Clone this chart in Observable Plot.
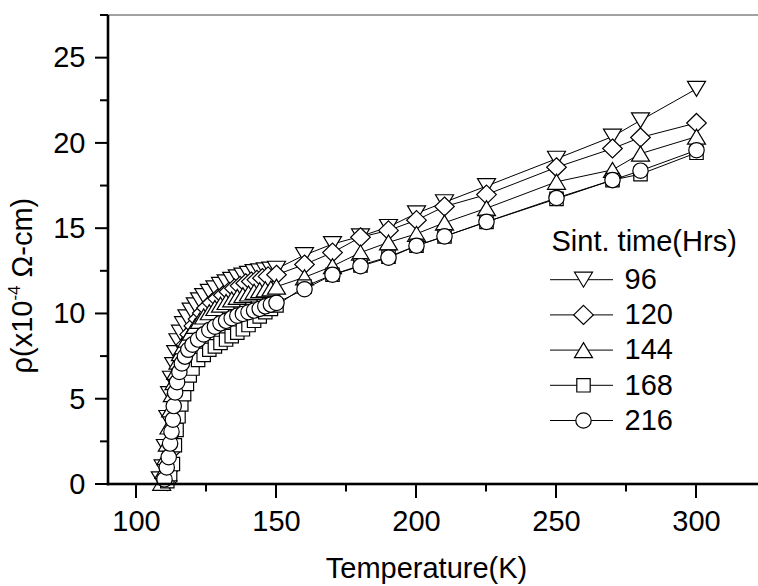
<!DOCTYPE html>
<html>
<head>
<meta charset="utf-8">
<script src="https://cdn.jsdelivr.net/npm/d3@7"></script>
<script src="https://cdn.jsdelivr.net/npm/@observablehq/plot@0.6"></script>
<style>
  html, body { margin: 0; padding: 0; background: #fff; overflow: hidden; }
</style>
</head>
<body>
<div id="chart"></div>
<script>
// ---- data ----
const seriesNames = ["96", "120", "144", "168", "216"];

const temp96 = [108.5,109.5,110.3,111.2,111.8,112.5,113.3,114,114.8,115.7,116.8,118,119.5,121,122.5,124,126,128,130,132,134,136,138,140,142,144,146,148,150,160,170,180,190,200,210,225,250,270,280,300];
const rho96  = [0.3,1.0,2.2,3.9,5.3,6.2,7.0,7.7,8.4,8.9,9.4,9.8,10.2,10.5,10.8,11.05,11.3,11.5,11.7,11.85,12.0,12.15,12.25,12.35,12.45,12.5,12.55,12.6,12.65,13.45,14.1,14.55,15.1,15.9,16.55,17.5,19.1,20.4,21.35,23.2];

const temp120 = [111,111.8,112.5,113.2,113.8,114.4,115,115.8,116.7,117.7,119,120.5,122,123.5,125,127,129,131,133,135,137,139,141,143,145,147,150,160,170,180,190,200,210,225,250,270,280,300];
const rho120  = [0.2,0.9,2.0,3.1,4.3,5.3,6.1,6.9,7.6,8.2,8.8,9.3,9.7,10.05,10.35,10.65,10.9,11.1,11.3,11.5,11.65,11.8,11.9,12.0,12.1,12.2,12.3,12.9,13.6,14.5,14.9,15.5,16.3,17.0,18.6,19.7,20.35,21.2];

const temp144 = [109,109.8,110.5,111,111.6,112.2,112.8,113.4,114,114.8,115.7,116.7,118,119.5,121,122.5,124,126,128,130,132,134,136,138,140,142,144,146,148,150,160,170,180,190,200,210,225,250,270,280,300];
const rho144  = [0.1,0.8,1.6,2.4,3.4,4.4,5.3,6.0,6.6,7.2,7.7,8.1,8.5,8.9,9.3,9.6,9.85,10.1,10.35,10.55,10.7,10.85,11.0,11.1,11.2,11.3,11.4,11.45,11.5,11.6,12.15,12.8,13.6,14.2,14.7,15.35,16.2,17.75,18.45,19.4,20.4];

const temp168 = [111,112,113,113.7,114.3,115,116,117,118,119,120,122,124,126,128,130,132,134,136,138,140,142,144,146,148,150,160,170,180,190,200,210,225,250,270,280,300];
const rho168  = [0.2,0.6,1.2,2.3,3.2,4.0,4.7,5.3,5.9,6.4,6.8,7.3,7.6,7.9,8.1,8.3,8.5,8.7,8.9,9.1,9.35,9.6,9.85,10.1,10.3,10.5,11.6,12.3,12.85,13.35,14.0,14.55,15.4,16.75,17.85,18.2,19.45];

const temp216 = [110,110.8,111.5,112,112.5,113,113.3,113.8,114.5,115.3,116.2,117.3,118.5,120,122,124,126,128,130,132,134,136,138,140,142,144,146,148,150,160,170,180,190,200,210,225,250,270,280,300];
const rho216  = [0.3,1.0,1.6,2.4,3.1,3.8,4.6,5.4,6.0,6.6,7.1,7.5,7.9,8.2,8.5,8.8,9.05,9.25,9.45,9.6,9.75,9.9,10.0,10.1,10.2,10.3,10.45,10.55,10.65,11.45,12.3,12.8,13.3,14.0,14.55,15.4,16.8,17.85,18.4,19.6];

// axis extent (where the axes are drawn) and the full view extent of the picture
const xAxisRange = [90, 322.14];
const yAxisRange = [0, 27.5];
const xView = [51.4286, 322.1429];
const yView = [-5.981, 28.380];
const xMajorTicks = [100, 150, 200, 250, 300];
const xMinorTicks = [125, 175, 225, 275];
const yMajorTicks = [0, 5, 10, 15, 20, 25];
const yMinorTicks = [2.5, 7.5, 12.5, 17.5, 22.5, 27.5];
const xTitle = "Temperature(K)";
const yTitle = "ρ(x10-4 Ω-cm)";
const legendTitle = "Sint. time(Hrs)";

// ---- symbols ----
const downTriangle = {draw(c) { c.moveTo(-9, -7.5); c.lineTo(9, -7.5); c.lineTo(0, 7.5); c.closePath(); }};
const upTriangle   = {draw(c) { c.moveTo(-9, 7.5); c.lineTo(9, 7.5); c.lineTo(0, -7.5); c.closePath(); }};
const diamond      = {draw(c) { c.moveTo(0, -9.5); c.lineTo(9.8, 0); c.lineTo(0, 9.5); c.lineTo(-9.8, 0); c.closePath(); }};
const square       = {draw(c) { c.moveTo(-6.7, -6.7); c.lineTo(6.7, -6.7); c.lineTo(6.7, 6.7); c.lineTo(-6.7, 6.7); c.closePath(); }};
const circle       = {draw(c) { c.moveTo(7.7, 0); c.arc(0, 0, 7.7, 0, 2 * Math.PI); c.closePath(); }};
const legendLine   = {draw(c) { c.moveTo(-31.5, 0); c.lineTo(31.5, 0); }};

const temps = [temp96, temp120, temp144, temp168, temp216];
const rhos = [rho96, rho120, rho144, rho168, rho216];
const symbols = [downTriangle, diamond, upTriangle, square, circle];

const font = "'Liberation Sans', Arial, Helvetica, sans-serif";
const FS = 29;

const marks = [];

// series: line then symbols, drawn in series order
seriesNames.forEach((name, i) => {
  const data = temps[i].map((t, j) => ({t, r: rhos[i][j]}));
  marks.push(Plot.line(data, {x: "t", y: "r", stroke: "black", strokeWidth: 1}));
  marks.push(Plot.dot(data, {x: "t", y: "r", symbol: symbols[i], r: 5, fill: "white", stroke: "black", strokeWidth: 1.2}));
});

// frame: top line (gray), left and bottom axis lines
const one = [0];
marks.push(Plot.rect(one, {x1: () => xAxisRange[0], x2: () => xAxisRange[1], y1: () => yAxisRange[1], y2: () => yAxisRange[1], insetTop: -0.6, insetBottom: -0.6, fill: "#666"}));
marks.push(Plot.rect(one, {x1: () => xAxisRange[0], x2: () => xAxisRange[0], y1: () => yAxisRange[0], y2: () => yAxisRange[1], insetLeft: -1.3, insetRight: -1.3, insetBottom: -1.3, fill: "black"}));
marks.push(Plot.rect(one, {x1: () => xAxisRange[0], x2: () => xAxisRange[1], y1: () => yAxisRange[0], y2: () => yAxisRange[0], insetTop: -1.3, insetBottom: -1.3, insetLeft: -1.3, fill: "black"}));

// ticks
marks.push(Plot.rect(xMajorTicks, {x1: d => d, x2: d => d, y1: () => yAxisRange[0], y2: () => yAxisRange[0], insetLeft: -1, insetRight: -1, insetBottom: -14, fill: "black"}));
marks.push(Plot.rect(xMinorTicks, {x1: d => d, x2: d => d, y1: () => yAxisRange[0], y2: () => yAxisRange[0], insetLeft: -1, insetRight: -1, insetBottom: -7.5, fill: "black"}));
marks.push(Plot.rect(yMajorTicks, {x1: () => xAxisRange[0], x2: () => xAxisRange[0], y1: d => d, y2: d => d, insetTop: -1, insetBottom: -1, insetLeft: -13, fill: "black"}));
marks.push(Plot.rect(yMinorTicks, {x1: () => xAxisRange[0], x2: () => xAxisRange[0], y1: d => d, y2: d => d, insetTop: -1, insetBottom: -1, insetLeft: -8, fill: "black"}));

// tick labels
marks.push(Plot.text(xMajorTicks, {x: d => d, y: () => yAxisRange[0], dy: 26, lineAnchor: "top", fontSize: FS, text: d => String(d)}));
marks.push(Plot.text(yMajorTicks, {x: () => xAxisRange[0], y: d => d, dx: -23, textAnchor: "end", lineAnchor: "middle", fontSize: FS, text: d => String(d)}));

// axis titles
marks.push(Plot.text([xTitle], {frameAnchor: "bottom", dx: 47, dy: -17.3, lineAnchor: "middle", fontSize: FS, text: d => d}));
marks.push(Plot.text([yTitle], {frameAnchor: "left", rotate: -90, textAnchor: "start", dx: 22.7, dy: 80, fontSize: FS, text: d => d}));

// legend
marks.push(Plot.text([legendTitle], {frameAnchor: "top-left", dx: 551, dy: 241.7, textAnchor: "start", lineAnchor: "middle", fontSize: FS, text: d => d}));
seriesNames.forEach((name, i) => {
  const dy = 279.2 + i * 35.2;
  marks.push(Plot.dot([name], {frameAnchor: "top-left", dx: 581, dy, symbol: legendLine, r: 5, fill: "none", stroke: "black", strokeWidth: 1}));
  marks.push(Plot.dot([name], {frameAnchor: "top-left", dx: 583, dy, symbol: symbols[i], r: 5, fill: "white", stroke: "black", strokeWidth: 1.2}));
  marks.push(Plot.text([name], {frameAnchor: "top-left", dx: 624, dy, textAnchor: "start", lineAnchor: "middle", fontSize: FS, text: d => d}));
});

const chart = Plot.plot({
  width: 758,
  height: 586,
  marginLeft: 0,
  marginRight: 0,
  marginTop: 0,
  marginBottom: 0,
  x: {domain: xView, axis: null, label: null},
  y: {domain: yView, axis: null, label: null},
  style: {fontFamily: font, fontSize: FS + "px", background: "white", color: "black"},
  marks
});

// y title: render the exponent as a superscript
chart.querySelectorAll("text").forEach(t => {
  if (t.textContent === yTitle) {
    const ns = "http://www.w3.org/2000/svg";
    t.textContent = "";
    const a = document.createElementNS(ns, "tspan");
    a.textContent = "ρ(x10";
    const b = document.createElementNS(ns, "tspan");
    b.textContent = "-4";
    b.setAttribute("font-size", "17");
    b.setAttribute("dy", "-12");
    const c = document.createElementNS(ns, "tspan");
    c.textContent = "\u00a0Ω-cm)";
    c.setAttribute("dy", "12");
    t.append(a, b, c);
  }
});

document.getElementById("chart").appendChild(chart);
</script>
</body>
</html>
